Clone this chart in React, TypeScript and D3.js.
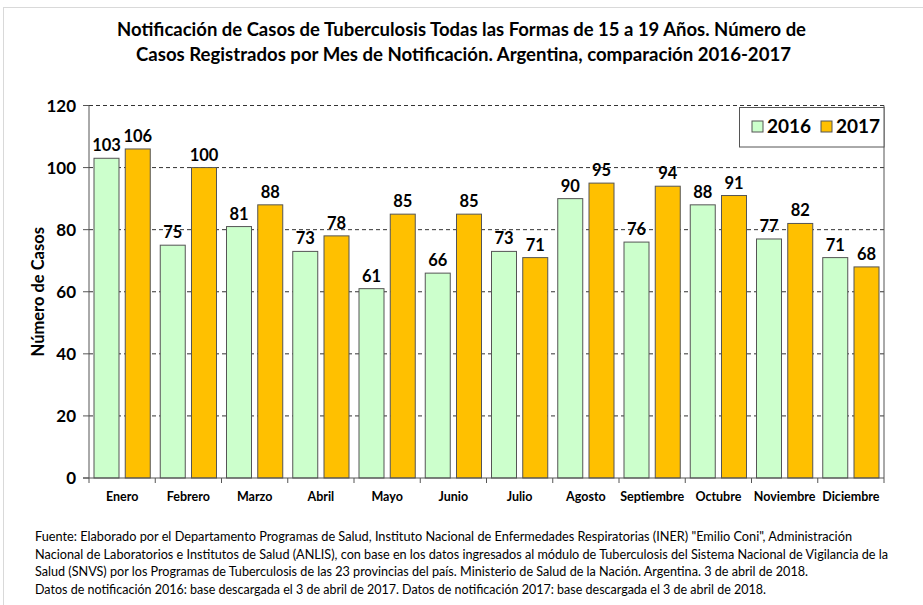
import * as d3 from 'd3';

const months = ['Enero', 'Febrero', 'Marzo', 'Abril', 'Mayo', 'Junio', 'Julio', 'Agosto', 'Septiembre', 'Octubre', 'Noviembre', 'Diciembre'];
const cases2016 = [103, 75, 81, 73, 61, 66, 73, 90, 76, 88, 77, 71];
const cases2017 = [106, 100, 88, 78, 85, 85, 71, 95, 94, 91, 82, 68];
const yTicks = [0, 20, 40, 60, 80, 100, 120];
const seriesNames = ['2016', '2017'];
const seriesColors = ['#CCFFCC', '#FFC000'];

const titleLines = [
  'Notificación de Casos de Tuberculosis Todas las Formas de 15 a 19 Años. Número de',
  'Casos Registrados por Mes de Notificación. Argentina, comparación 2016-2017',
];
const footLines = [
  'Fuente: Elaborado por el Departamento Programas de Salud, Instituto Nacional de Enfermedades Respiratorias (INER) "Emilio Coni", Administración',
  'Nacional de Laboratorios e Institutos de Salud (ANLIS), con base en los datos ingresados al módulo de Tuberculosis del Sistema Nacional de Vigilancia de la',
  'Salud (SNVS) por los Programas de Tuberculosis de las 23 provincias del país. Ministerio de Salud de la Nación. Argentina. 3 de abril de 2018.',
  'Datos de notificación 2016: base descargada el 3 de abril de 2017. Datos de notificación 2017: base descargada el 3 de abril de 2018.',
];

const W = 923;
const H = 605;
const font = 'Lato, "Open Sans", sans-serif';
const plot = { left: 89, right: 884, top: 105.5, bottom: 478 };

export default function App() {
  const x = d3.scaleBand<string>().domain(months).range([plot.left, plot.right]).padding(0);
  const inner = d3
    .scaleBand<string>()
    .domain(seriesNames)
    .range([0, x.bandwidth()])
    .paddingInner(0.2)
    .paddingOuter(0.16);
  const y = d3.scaleLinear().domain([0, 120]).range([plot.bottom, plot.top]);
  const series = [cases2016, cases2017];

  const titleSpan = [[117, 806], [136, 791]];
  const footEnd = [852, 888, 808, 766];

  return (
    <svg width={W} height={H} style={{ position: 'absolute', left: 0, top: 0 }} fontFamily={font}>
      <rect x={0} y={0} width={W} height={H} fill="#fff" />
      <rect x={3.5} y={7.5} width={W + 10} height={H} fill="none" stroke="#d9d9d9" strokeWidth={1} />

      {titleLines.map((t, i) => (
        <text
          key={t}
          x={(titleSpan[i][0] + titleSpan[i][1]) / 2}
          y={36 + i * 25}
          textAnchor="middle"
          fontSize={18}
          fontWeight="bold"
          textLength={titleSpan[i][1] - titleSpan[i][0]}
          lengthAdjust="spacingAndGlyphs"
        >
          {t}
        </text>
      ))}

      {/* gridlines */}
      {yTicks.filter((v) => v > 0).map((v) => (
        <line
          key={v}
          x1={plot.left}
          x2={plot.right}
          y1={y(v)}
          y2={y(v)}
          stroke="#333"
          strokeWidth={1}
          strokeDasharray="4,3"
        />
      ))}

      {/* bars */}
      {months.map((m, i) => (
        <g key={m} transform={`translate(${x(m)},0)`}>
          {seriesNames.map((s, j) => (
            <g key={s}>
              <rect
                x={inner(s)}
                y={y(series[j][i])}
                width={inner.bandwidth()}
                height={y(0) - y(series[j][i])}
                fill={seriesColors[j]}
                stroke="#555"
                strokeWidth={1}
              />
              <text
                x={(inner(s) ?? 0) + inner.bandwidth() / 2}
                y={y(series[j][i]) - 7}
                textAnchor="middle"
                fontSize={16.5}
                fontWeight="bold"
              >
                {series[j][i]}
              </text>
            </g>
          ))}
        </g>
      ))}

      {/* axes */}
      <line x1={plot.left} x2={plot.left} y1={plot.top} y2={plot.bottom} stroke="#555" />
      <line x1={plot.right} x2={plot.right} y1={plot.top} y2={plot.bottom + 5} stroke="#555" />
      <line x1={plot.left - 6} x2={plot.right} y1={plot.bottom} y2={plot.bottom} stroke="#555" />
      {yTicks.map((v) => (
        <g key={v}>
          <line x1={plot.left - 6} x2={plot.left} y1={y(v)} y2={y(v)} stroke="#555" />
          <text x={76} y={y(v) + 6} textAnchor="end" fontSize={17} fontWeight="bold">
            {v}
          </text>
        </g>
      ))}
      {months.map((m) => (
        <g key={m}>
          <line x1={x(m)} x2={x(m)} y1={plot.bottom} y2={plot.bottom + 5} stroke="#555" />
          <text x={(x(m) ?? 0) + x.bandwidth() / 2} y={501} textAnchor="middle" fontSize={12.5} fontWeight="bold">
            {m}
          </text>
        </g>
      ))}
      <text
        transform={`translate(44,${(plot.top + plot.bottom) / 2}) rotate(-90)`}
        textAnchor="middle"
        fontSize={16.5}
        fontWeight="bold"
      >
        Número de Casos
      </text>

      {/* legend */}
      <rect x={739.5} y={107.5} width={144.5} height={39.5} fill="#fff" stroke="#555" />
      {seriesNames.map((s, j) => (
        <g key={s} transform={`translate(${752 + j * 69},121)`}>
          <rect x={0} y={0} width={11} height={11} fill={seriesColors[j]} stroke="#555" />
          <text x={15} y={12} fontSize={19} fontWeight="bold">
            {s}
          </text>
        </g>
      ))}

      {/* footnote */}
      {footLines.map((t, i) => (
        <text
          key={i}
          x={35}
          y={541 + i * 17.5}
          fontSize={12.5}
          textLength={footEnd[i] - 35}
          lengthAdjust="spacingAndGlyphs"
        >
          {t}
        </text>
      ))}
    </svg>
  );
}
